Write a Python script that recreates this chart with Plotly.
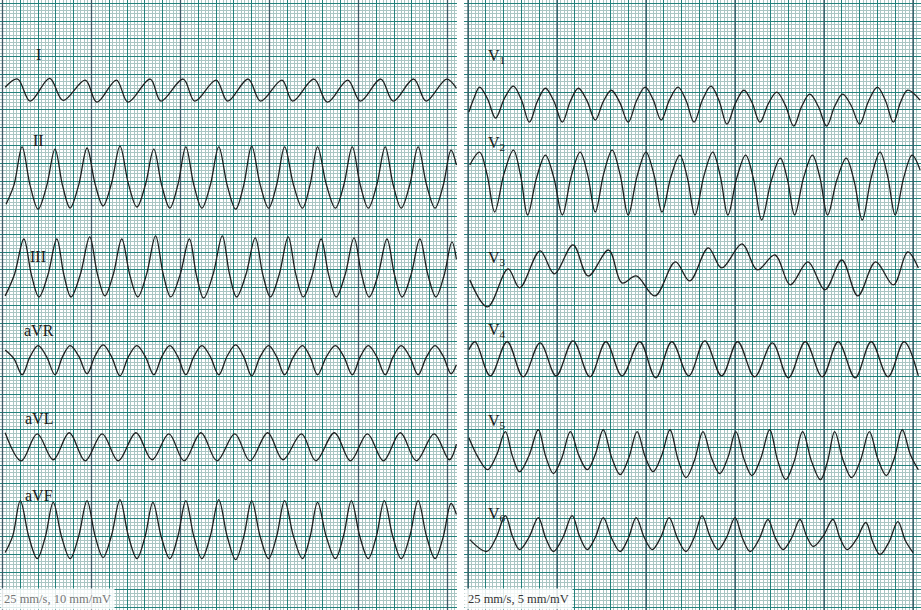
import plotly.graph_objects as go

# ---------------- data: points read along each lead (time in s, amplitude in mV) -------------
lead_I_t = [0.03, 0.17, 0.31, 0.53, 0.68, 0.93, 1.06, 1.28, 1.41, 1.66, 1.78, 2.03, 2.16, 2.40, 2.53,
            2.76, 2.90, 3.14, 3.26, 3.50, 3.65, 3.88, 4.02, 4.25, 4.39, 4.62, 4.76, 4.99, 5.10]
lead_I_mv = [0.14, 0.37, -0.25, 0.39, -0.23, 0.34, -0.28, 0.34, -0.28, 0.37, -0.25, 0.37, -0.25, 0.34, -0.25,
             0.37, -0.25, 0.34, -0.25, 0.37, -0.28, 0.34, -0.25, 0.37, -0.25, 0.37, -0.25, 0.37, 0.11]

lead_II_t = [0.04, 0.13, 0.22, 0.31, 0.40, 0.495, 0.59, 0.675, 0.76, 0.855, 0.95, 1.04, 1.13, 1.225, 1.32,
             1.415, 1.51, 1.605, 1.70, 1.79, 1.88, 1.97, 2.06, 2.15, 2.24, 2.335, 2.43, 2.525, 2.62, 2.71,
             2.80, 2.895, 2.99, 3.08, 3.17, 3.27, 3.37, 3.455, 3.54, 3.64, 3.74, 3.835, 3.93, 4.02, 4.11,
             4.205, 4.30, 4.39, 4.48, 4.575, 4.67, 4.765, 4.86, 4.95, 5.04, 5.10]
lead_II_mv = [-0.65, -0.10, 0.96, -0.12, -0.79, -0.15, 0.90, -0.13, -0.76, -0.12, 0.93, -0.08, -0.70, -0.06, 0.98,
              -0.08, -0.73, -0.11, 0.90, -0.13, -0.76, -0.11, 0.96, -0.11, -0.76, -0.11, 0.96, -0.12, -0.79, -0.12,
              0.98, -0.10, -0.76, -0.11, 0.96, -0.11, -0.76, -0.11, 0.96, -0.11, -0.76, -0.11, 0.96, -0.11, -0.76,
              -0.11, 0.96, -0.11, -0.76, -0.11, 0.96, -0.11, -0.76, -0.14, 0.87, 0.45]

lead_III_t = [0.03, 0.135, 0.24, 0.325, 0.41, 0.51, 0.61, 0.69, 0.77, 0.875, 0.98, 1.065, 1.15, 1.245, 1.34,
              1.43, 1.52, 1.62, 1.72, 1.805, 1.89, 1.995, 2.10, 2.18, 2.26, 2.365, 2.47, 2.55, 2.63, 2.735,
              2.84, 2.925, 3.01, 3.11, 3.21, 3.295, 3.38, 3.48, 3.58, 3.665, 3.75, 3.85, 3.95, 4.035, 4.12,
              4.22, 4.32, 4.405, 4.49, 4.59, 4.69, 4.78, 4.87, 4.96, 5.05, 5.10]
lead_III_mv = [-0.73, -0.12, 0.87, -0.14, -0.76, -0.14, 0.87, -0.14, -0.76, -0.12, 0.93, -0.10, -0.73, -0.12, 0.87,
               -0.14, -0.76, -0.11, 0.96, -0.11, -0.76, -0.14, 0.87, -0.16, -0.79, -0.13, 0.96, -0.11, -0.76, -0.13,
               0.90, -0.13, -0.76, -0.12, 0.93, -0.12, -0.76, -0.14, 0.87, -0.14, -0.76, -0.13, 0.90, -0.13, -0.76,
               -0.14, 0.87, -0.14, -0.76, -0.14, 0.87, -0.14, -0.76, -0.17, 0.79, 0.30]

lead_aVR_t = [0.03, 0.13, 0.22, 0.31, 0.40, 0.495, 0.59, 0.675, 0.76, 0.855, 0.95, 1.04, 1.13, 1.225, 1.32,
              1.415, 1.51, 1.605, 1.70, 1.79, 1.88, 1.97, 2.06, 2.15, 2.24, 2.335, 2.43, 2.525, 2.62, 2.71,
              2.80, 2.895, 2.99, 3.08, 3.17, 3.27, 3.37, 3.455, 3.54, 3.64, 3.74, 3.835, 3.93, 4.02, 4.11,
              4.205, 4.30, 4.39, 4.48, 4.575, 4.67, 4.765, 4.86, 4.95, 5.04, 5.10]
lead_aVR_mv = [0.25, 0.00, -0.45, 0.06, 0.37, 0.06, -0.45, 0.06, 0.37, 0.08, -0.42, 0.08, 0.39, 0.06, -0.48,
               0.06, 0.37, 0.06, -0.45, 0.06, 0.37, 0.06, -0.45, 0.06, 0.37, 0.06, -0.45, 0.08, 0.39, 0.06,
               -0.48, 0.06, 0.37, 0.06, -0.45, 0.06, 0.37, 0.06, -0.45, 0.06, 0.37, 0.06, -0.45, 0.06, 0.37,
               0.06, -0.45, 0.06, 0.37, 0.06, -0.45, 0.06, 0.37, 0.08, -0.42, -0.17]

lead_aVL_t = [0.03, 0.21, 0.39, 0.57, 0.75, 0.93, 1.12, 1.30, 1.50, 1.68, 1.87, 2.04, 2.23, 2.41, 2.61,
              2.78, 2.98, 3.15, 3.36, 3.52, 3.73, 3.91, 4.10, 4.28, 4.47, 4.65, 4.85, 5.02, 5.10]
lead_aVL_mv = [0.42, -0.37, 0.39, -0.34, 0.42, -0.37, 0.39, -0.37, 0.42, -0.34, 0.39, -0.37, 0.42, -0.37, 0.39,
               -0.37, 0.42, -0.34, 0.39, -0.37, 0.42, -0.37, 0.39, -0.37, 0.42, -0.37, 0.39, -0.34, 0.10]

lead_aVF_t = [0.03, 0.115, 0.20, 0.295, 0.39, 0.48, 0.57, 0.665, 0.76, 0.855, 0.95, 1.04, 1.13, 1.225, 1.32,
              1.415, 1.51, 1.60, 1.69, 1.785, 1.88, 1.97, 2.06, 2.15, 2.24, 2.335, 2.43, 2.525, 2.62, 2.71,
              2.80, 2.895, 2.99, 3.08, 3.17, 3.27, 3.37, 3.455, 3.54, 3.64, 3.74, 3.83, 3.92, 4.015, 4.11,
              4.20, 4.29, 4.385, 4.48, 4.575, 4.67, 4.765, 4.86, 4.95, 5.04, 5.10]
lead_aVF_mv = [-0.45, 0.02, 1.01, 0.00, -0.62, -0.02, 0.96, -0.02, -0.62, 0.00, 1.01, 0.02, -0.59, 0.03, 1.04,
               0.01, -0.62, -0.02, 0.96, -0.02, -0.62, 0.00, 1.01, 0.00, -0.62, 0.01, 1.04, 0.00, -0.65, -0.01,
               1.01, 0.00, -0.62, 0.00, 1.01, 0.00, -0.62, -0.02, 0.96, -0.02, -0.62, 0.00, 1.01, 0.00, -0.62,
               0.00, 1.01, 0.00, -0.62, 0.00, 1.01, 0.00, -0.62, -0.03, 0.93, 0.62]

lead_V1_t = [0.01, 0.07, 0.13, 0.22, 0.31, 0.41, 0.51, 0.60, 0.69, 0.78, 0.87, 0.965, 1.06, 1.15, 1.24,
             1.335, 1.43, 1.52, 1.61, 1.705, 1.80, 1.895, 1.99, 2.08, 2.17, 2.265, 2.36, 2.45, 2.54, 2.635,
             2.73, 2.82, 2.91, 3.005, 3.10, 3.19, 3.28, 3.375, 3.47, 3.565, 3.66, 3.75, 3.84, 3.935, 4.03,
             4.12, 4.21, 4.305, 4.40, 4.50, 4.60, 4.69, 4.78, 4.86, 4.94, 5.08]
lead_V1_mv = [-1.12, -0.30, 0.28, -0.38, -1.46, -0.34, 0.34, -0.43, -1.69, -0.51, 0.22, -0.51, -1.69, -0.51, 0.22,
              -0.46, -1.57, -0.53, 0.11, -0.57, -1.69, -0.47, 0.28, -0.42, -1.57, -0.42, 0.28, -0.47, -1.69, -0.43,
              0.34, -0.47, -1.80, -0.62, 0.11, -0.57, -1.69, -0.64, 0.00, -0.73, -1.91, -0.79, -0.11, -0.79, -1.91,
              -0.79, -0.11, -0.75, -1.80, -0.51, 0.28, -0.47, -1.69, -0.57, 0.11, -0.45]

lead_V2_t = [0.02, 0.13, 0.215, 0.30, 0.405, 0.51, 0.59, 0.67, 0.77, 0.87, 0.965, 1.06, 1.16, 1.26, 1.345,
             1.43, 1.525, 1.62, 1.71, 1.80, 1.90, 2.00, 2.09, 2.18, 2.28, 2.38, 2.465, 2.55, 2.65, 2.75,
             2.835, 2.92, 3.02, 3.12, 3.21, 3.30, 3.405, 3.51, 3.59, 3.67, 3.77, 3.87, 3.955, 4.04, 4.145,
             4.25, 4.34, 4.43, 4.53, 4.63, 4.715, 4.80, 4.895, 4.99, 5.08]
lead_V2_mv = [0.90, 1.63, 0.35, -1.74, 0.42, 1.74, 0.35, -1.91, 0.18, 1.46, 0.18, -1.91, 0.28, 1.63, 0.35,
              -1.74, 0.42, 1.74, 0.35, -1.91, 0.28, 1.63, 0.35, -1.74, 0.24, 1.46, 0.18, -1.91, 0.28, 1.63,
              0.28, -1.91, 0.18, 1.46, 0.07, -2.19, -0.03, 1.29, 0.07, -1.91, 0.18, 1.46, 0.18, -1.91, 0.07,
              1.29, -0.03, -2.19, 0.18, 1.63, 0.28, -1.91, 0.18, 1.46, 0.62]

lead_V3_t = [0.02, 0.22, 0.45, 0.58, 0.81, 0.97, 1.18, 1.35, 1.58, 1.73, 1.89, 2.10, 2.33, 2.49, 2.70,
             2.85, 3.08, 3.25, 3.45, 3.62, 3.82, 4.01, 4.20, 4.38, 4.58, 4.78, 4.94, 5.06]
lead_V3_mv = [-0.56, -2.08, 0.06, -1.01, 1.07, -0.22, 1.41, -0.34, 1.12, -0.73, -0.34, -1.46, 0.45, -0.62, 1.24,
              0.11, 1.46, 0.00, 0.84, -0.84, 0.45, -1.12, 0.56, -1.46, 0.45, -0.84, 1.01, 0.11]

lead_V4_t = [0.01, 0.08, 0.25, 0.44, 0.62, 0.81, 0.99, 1.18, 1.37, 1.55, 1.73, 1.93, 2.11, 2.29, 2.48,
             2.66, 2.85, 3.03, 3.22, 3.42, 3.60, 3.79, 3.98, 4.16, 4.35, 4.53, 4.72, 4.90, 5.06]
lead_V4_mv = [0.51, 0.96, -0.96, 0.96, -1.01, 0.90, -0.96, 1.01, -1.01, 0.96, -0.96, 0.96, -1.07, 0.96, -0.96,
              1.01, -0.96, 0.96, -1.01, 0.90, -1.07, 0.96, -1.01, 0.96, -1.07, 0.96, -1.01, 0.96, -0.96]

lead_V5_t = [0.01, 0.115, 0.22, 0.32, 0.42, 0.50, 0.58, 0.685, 0.79, 0.875, 0.96, 1.055, 1.15, 1.245, 1.34,
             1.43, 1.52, 1.615, 1.71, 1.805, 1.90, 1.99, 2.08, 2.175, 2.27, 2.36, 2.45, 2.545, 2.64, 2.735,
             2.83, 2.92, 3.01, 3.10, 3.19, 3.29, 3.39, 3.48, 3.57, 3.665, 3.76, 3.86, 3.96, 4.04, 4.12,
             4.215, 4.31, 4.41, 4.51, 4.605, 4.70, 4.79, 4.88, 4.97, 5.06]
lead_V5_mv = [0.56, -0.56, -1.24, -0.43, 0.90, -0.49, -1.35, -0.45, 1.01, -0.52, -1.46, -0.56, 0.90, -0.43, -1.24,
              -0.38, 1.01, -0.56, -1.52, -0.60, 0.90, -0.49, -1.35, -0.45, 1.01, -0.66, -1.69, -0.71, 0.90, -0.56,
              -1.46, -0.56, 0.90, -0.63, -1.57, -0.59, 1.01, -0.73, -1.80, -0.77, 0.90, -0.77, -1.80, -0.77, 0.90,
              -0.71, -1.69, -0.71, 0.90, -0.63, -1.57, -0.59, 1.01, -0.38, -1.24]

lead_V6_t = [0.02, 0.21, 0.315, 0.42, 0.50, 0.58, 0.685, 0.79, 0.875, 0.96, 1.065, 1.17, 1.255, 1.34, 1.43,
             1.52, 1.615, 1.71, 1.80, 1.89, 1.98, 2.07, 2.165, 2.26, 2.355, 2.45, 2.54, 2.63, 2.72, 2.81,
             2.905, 3.00, 3.085, 3.17, 3.27, 3.37, 3.455, 3.54, 3.635, 3.73, 3.805, 3.88, 3.99, 4.10, 4.18,
             4.26, 4.365, 4.47, 4.55, 4.63, 4.73, 4.83, 4.915, 5.00]
lead_V6_mv = [-0.17, -0.84, -0.07, 1.18, 0.00, -0.73, -0.05, 1.07, -0.11, -0.84, -0.07, 1.18, 0.00, -0.73, -0.05,
              1.07, -0.11, -0.84, -0.11, 1.07, -0.05, -0.73, -0.05, 1.07, -0.11, -0.84, -0.07, 1.18, 0.00, -0.73,
              -0.05, 1.07, -0.11, -0.84, -0.16, 0.96, -0.09, -0.73, -0.09, 0.96, 0.02, -0.56, 0.02, 0.96, -0.09,
              -0.73, -0.15, 0.79, -0.33, -1.01, -0.31, 0.84, -0.24, -0.90]

limb_names = ["I", "II", "III", "aVR", "aVL", "aVF"]
chest_names = ["V<sub>1</sub>", "V<sub>2</sub>", "V<sub>3</sub>", "V<sub>4</sub>", "V<sub>5</sub>", "V<sub>6</sub>"]
limb_data = [(lead_I_t, lead_I_mv), (lead_II_t, lead_II_mv), (lead_III_t, lead_III_mv),
             (lead_aVR_t, lead_aVR_mv), (lead_aVL_t, lead_aVL_mv), (lead_aVF_t, lead_aVF_mv)]
chest_data = [(lead_V1_t, lead_V1_mv), (lead_V2_t, lead_V2_mv), (lead_V3_t, lead_V3_mv),
              (lead_V4_t, lead_V4_mv), (lead_V5_t, lead_V5_mv), (lead_V6_t, lead_V6_mv)]
caption_left = "25 mm/s, 10 mm/mV"
caption_right = "25 mm/s, 5 mm/mV"

# ---------------- layout constants ----------------
W, H = 921, 610
row_base_mm = [25, 50, 75, 100, 125, 150]      # baseline of each row, mm from top of paper
gain_left, gain_right = 10.0, 5.0               # mm per mV
MINOR = "#a9c6c3"
MAJOR = "#23827c"
DARK = "#3e5966"
TRACE = "#1e1e1e"
X_LEFT = [-0.0281, 5.1067]
X_RIGHT = [-0.0449, 5.0899]
Y_RANGE = [170.66, -0.93]

fig = go.Figure()
for (t, mv), base in zip(limb_data, row_base_mm):
    fig.add_trace(go.Scatter(x=t, y=[base - v * gain_left for v in mv], mode="lines",
                             line=dict(color=TRACE, width=1.3, shape="spline", smoothing=1.0),
                             xaxis="x", yaxis="y", hoverinfo="skip", showlegend=False))
for (t, mv), base in zip(chest_data, row_base_mm):
    fig.add_trace(go.Scatter(x=t, y=[base - v * gain_right for v in mv], mode="lines",
                             line=dict(color=TRACE, width=1.3, shape="spline", smoothing=1.0),
                             xaxis="x2", yaxis="y2", hoverinfo="skip", showlegend=False))


def xax(domain, rng, anchor):
    return dict(domain=domain, range=rng, tick0=0, dtick=0.2, showgrid=True, gridcolor=MAJOR,
                gridwidth=1.3, zeroline=False, showline=False, showticklabels=False, ticks="",
                fixedrange=True, anchor=anchor,
                minor=dict(tick0=0, dtick=0.04, showgrid=True, gridcolor=MINOR, gridwidth=1, ticks=""))


def yax(anchor):
    return dict(domain=[0, 1], range=Y_RANGE, tick0=0, dtick=5, showgrid=True, gridcolor=MAJOR,
                gridwidth=1.3, zeroline=False, showline=False, showticklabels=False, ticks="",
                fixedrange=True, anchor=anchor,
                minor=dict(tick0=0, dtick=1, showgrid=True, gridcolor=MINOR, gridwidth=1, ticks=""))


fig.update_layout(
    width=W, height=H, margin=dict(l=0, r=0, t=0, b=0, pad=0), autosize=False,
    paper_bgcolor="white", plot_bgcolor="white",
    xaxis=xax([0, 457 / W], X_LEFT, "y"),
    yaxis=yax("x"),
    xaxis2=xax([464 / W, 1], X_RIGHT, "y2"),
    yaxis2=yax("x2"),
)

# darker 1-second rulings, drawn between the grid and the traces
shapes = []
for xr, yr in (("x", "y"), ("x2", "y2")):
    for k in range(6):
        shapes.append(dict(type="line", xref=xr, yref=yr, x0=k, x1=k, y0=Y_RANGE[1], y1=Y_RANGE[0],
                           line=dict(color=DARK, width=1.3), layer="between"))
fig.update_layout(shapes=shapes)

ann = []
limb_label_px = [(38, 55), (38, 140), (38, 256), (39, 330), (39, 418), (39, 495)]
chest_label_px = [(486, 57), (486, 144), (486, 258), (486, 330), (486, 422), (486, 514)]
for name, (px, py) in zip(limb_names, limb_label_px):
    ann.append(dict(text=name, x=px / W, y=1 - py / H, xref="paper", yref="paper",
                    xanchor="center", yanchor="middle", showarrow=False,
                    font=dict(family="Liberation Serif", size=16, color="#1a1a1a")))
for name, (px, py) in zip(chest_names, chest_label_px):
    ann.append(dict(text=name, x=px / W, y=1 - py / H, xref="paper", yref="paper",
                    xanchor="left", yanchor="middle", showarrow=False,
                    font=dict(family="Liberation Serif", size=16, color="#1a1a1a")))
ann.append(dict(text=caption_left, x=0, y=0, xref="paper", yref="paper", xanchor="left", yanchor="bottom",
                showarrow=False, bgcolor="rgba(255,255,255,0.85)", borderpad=3,
                font=dict(family="Liberation Serif", size=12.5, color="#777777")))
ann.append(dict(text=caption_right, x=464 / W, y=0, xref="paper", yref="paper", xanchor="left",
                yanchor="bottom", showarrow=False, bgcolor="rgba(255,255,255,0.85)", borderpad=3,
                font=dict(family="Liberation Serif", size=12.5, color="#333333")))
fig.update_layout(annotations=ann)

fig.write_html("out.html", config={"displayModeBar": False, "responsive": False},
               post_script="document.body.style.margin='0';document.body.style.padding='0';"
                           "document.body.style.overflow='hidden';")
